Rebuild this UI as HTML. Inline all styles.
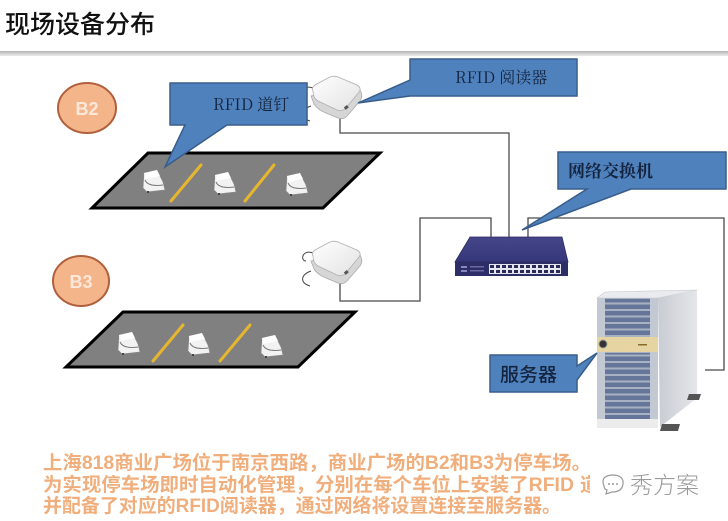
<!DOCTYPE html>
<html><head><meta charset="utf-8"><style>
html,body{margin:0;padding:0;background:#fff;}
svg{display:block;}
</style></head><body>
<svg width="728" height="521" viewBox="0 0 728 521" xmlns="http://www.w3.org/2000/svg">
<defs>
<linearGradient id="rule" x1="0" y1="0" x2="0" y2="1"><stop offset="0" stop-color="#b4b4b4"/><stop offset="1" stop-color="#ececec"/></linearGradient>
<linearGradient id="rdTop" x1="0" y1="0" x2="1" y2="1"><stop offset="0" stop-color="#ffffff"/><stop offset="1" stop-color="#e2e2e2"/></linearGradient>
<linearGradient id="swTop" x1="0" y1="0" x2="0" y2="1"><stop offset="0" stop-color="#45458a"/><stop offset="1" stop-color="#36367a"/></linearGradient>
<linearGradient id="srvSide" x1="0" y1="0" x2="1" y2="0"><stop offset="0" stop-color="#c9ccd3"/><stop offset="1" stop-color="#e4e6ea"/></linearGradient>
<pattern id="ports" x="489" y="264" width="6" height="5" patternUnits="userSpaceOnUse"><rect width="6" height="5" fill="#e4e6f0"/><rect x="1" y="1" width="4" height="3" fill="#2a2a55"/></pattern>
<pattern id="slats" x="0" y="298" width="10" height="6.5" patternUnits="userSpaceOnUse"><rect width="10" height="6.5" fill="#a7b1c2"/><rect y="0" width="10" height="4.5" fill="#66769a"/></pattern>
<g id="dev">
<path d="M2,3 L15,0 L21,12 L23,20 L5,22 L1,18 Z" fill="#f2f2f2" stroke="#8a8a8a" stroke-width="0.7"/>
<path d="M3,10 Q6,17 21,15" fill="none" stroke="#7a7a7a" stroke-width="1"/>
<path d="M2,3 L15,0 L18,6 L3,9 Z" fill="#ffffff"/>
<rect x="5" y="21" width="2" height="2" fill="#444"/>
</g>
<g id="reader">
<path d="M313,88 C302,84 300,96 306,96" fill="none" stroke="#444" stroke-width="1"/>
<path d="M311,106 C300,110 300,118 310,121" fill="none" stroke="#444" stroke-width="1"/>
<path d="M311,96 L314,104 Q318,110 326,113 L338,118 Q343,120 347,116 L360,101 Q363,97 361,92 L359,88 Z" fill="#d6d6d6" stroke="#aaa" stroke-width="0.8"/>
<path d="M313,91 Q311,88 315,85 L328,78 Q333,75 338,77 L357,85 Q362,88 359,92 L346,108 Q342,112 337,110 L318,101 Q313,98 313,91 Z" fill="url(#rdTop)" stroke="#b0b0b0" stroke-width="0.8"/>
<rect x="344" y="106" width="4" height="3" fill="#555" transform="rotate(-40 346 107)"/>
</g>
</defs>

<!-- title -->
<text x="5" y="33" font-family="'Noto Sans CJK SC','WenQuanYi Zen Hei',sans-serif" font-size="25" font-weight="500" fill="#111">现场设备分布</text>
<rect x="0" y="51" width="728" height="5" fill="url(#rule)"/>

<!-- connector lines -->
<g fill="none" stroke="#4a4a4a" stroke-width="1.3">
<path d="M340,118 V133 H509 V237"/>
<path d="M340,283 V301 H420 V218 H491 V237"/>
<path d="M528,237 V218 H724 V370 H705"/>
</g>

<!-- B2 -->
<ellipse cx="87" cy="108" rx="29" ry="25" fill="#f5b58b" stroke="#b0603c" stroke-width="2"/>
<text x="87" y="115" text-anchor="middle" font-family="'Liberation Sans',sans-serif" font-size="18" font-weight="bold" fill="#fbe8da">B2</text>
<polygon points="148,153 380,153 323,208 92,208" fill="#808080" stroke="#000" stroke-width="3" stroke-linejoin="miter"/>
<g stroke="#e6b62e" stroke-width="3" stroke-linecap="round"><line x1="171" y1="201" x2="201" y2="165"/><line x1="245" y1="201" x2="274" y2="165"/></g>
<use href="#dev" x="142" y="170"/><use href="#dev" x="213" y="172"/><use href="#dev" x="285" y="173"/>

<!-- B3 -->
<ellipse cx="81" cy="281" rx="28" ry="25" fill="#f5b58b" stroke="#b0603c" stroke-width="2"/>
<text x="81" y="288" text-anchor="middle" font-family="'Liberation Sans',sans-serif" font-size="18" font-weight="bold" fill="#fbe8da">B3</text>
<polygon points="123,312 355,312 298,367 66,367" fill="#808080" stroke="#000" stroke-width="3"/>
<g stroke="#e6b62e" stroke-width="3" stroke-linecap="round"><line x1="153" y1="361" x2="183" y2="325"/><line x1="220" y1="361" x2="250" y2="325"/></g>
<use href="#dev" x="117" y="332"/><use href="#dev" x="187" y="333"/><use href="#dev" x="260" y="335"/>

<!-- readers -->
<use href="#reader"/>
<use href="#reader" y="165"/>

<!-- switch -->
<polygon points="470,237 562,237 568,262 455,262" fill="url(#swTop)" stroke="#2a2a60" stroke-width="0.8"/>
<polygon points="455,262 568,262 568,276 455,276" fill="#2d2d68"/>
<rect x="489" y="264" width="72" height="10" fill="url(#ports)"/>
<rect x="461" y="266" width="6" height="2" fill="#8888bb"/><rect x="470" y="266" width="14" height="1.5" fill="#6a6aa0"/>
<rect x="461" y="270" width="6" height="2" fill="#8888bb"/><rect x="470" y="270" width="14" height="1.5" fill="#6a6aa0"/>

<!-- server -->
<polygon points="597,298 605,292 697,290 658,298" fill="#e9ebee" stroke="#c4c7cc" stroke-width="0.6"/>
<polygon points="658,298 697,290 697,398 660,427" fill="url(#srvSide)"/>
<rect x="597" y="298" width="61" height="129" fill="#a7b1c2"/>
<rect x="605" y="299" width="45" height="37" fill="url(#slats)"/>
<rect x="605" y="353" width="45" height="66" fill="url(#slats)"/>
<rect x="597" y="298" width="8" height="121" fill="#c3c9d3"/>
<rect x="650" y="298" width="8" height="121" fill="#c3c9d3"/>
<rect x="597" y="337" width="61" height="15" fill="#e6d5a3"/>
<rect x="638" y="344" width="9" height="1.5" fill="#8a6a2a"/>
<circle cx="603" cy="344" r="4" fill="#333" stroke="#999" stroke-width="1"/>
<rect x="597" y="419" width="61" height="9" fill="#ececec"/>
<polygon points="662,424 680,424 678,431 660,431" fill="#555"/>
<polygon points="689,394 701,394 699,400 687,400" fill="#555"/>

<!-- callouts -->
<g fill="#4f81bd" stroke="#385d8a" stroke-width="1.5" stroke-linejoin="miter">
<path d="M170,83 H307 V125 H227 L165,167 L185,125 H170 Z"/>
<path d="M410,59 H577 V96 H410 L358,103 L410,80 Z"/>
<path d="M558,152 H726 V189 H631 L522,230 L587,189 H558 Z"/>
<path d="M490,355 H577 V366 L597,353 L577,380 V392 H490 Z"/>
</g>
<g font-family="'Noto Serif CJK SC','Liberation Serif',serif" fill="#14243f">
<text x="213" y="110" font-size="16">RFID 道钉</text>
<text x="455" y="83" font-size="16">RFID 阅读器</text>
<text x="568" y="177" font-size="17" font-weight="bold">网络交换机</text>
</g>
<text x="500" y="381" font-family="'Noto Sans CJK SC',sans-serif" font-size="19" font-weight="500" fill="#14243f">服务器</text>

<!-- bottom text -->
<g font-family="'Liberation Sans','Noto Sans CJK SC',sans-serif" font-size="19" font-weight="bold" fill="#f0ae7c">
<text x="43" y="469" textLength="548" lengthAdjust="spacingAndGlyphs">上海818商业广场位于南京西路，商业广场的B2和B3为停车场。</text>
<text x="43" y="491" textLength="531" lengthAdjust="spacingAndGlyphs">为实现停车场即时自动化管理，分别在每个车位上安装了RFID</text>
<text x="580" y="491">道</text>
<text x="43" y="512" textLength="518" lengthAdjust="spacingAndGlyphs">并配备了对应的RFID阅读器，通过网络将设置连接至服务器。</text>
</g>
<rect x="590" y="472" width="138" height="24" fill="#fff"/>
<!-- watermark -->
<g fill="none" stroke="#9a9a9a" stroke-width="1.2">
<path d="M604,486 Q600,476 612,475 Q624,475 623,484 Q622,492 612,492 L606,494 L607,490 Q604,489 604,486 Z"/>
</g>
<circle cx="609" cy="484" r="1" fill="#9a9a9a"/><circle cx="613" cy="484" r="1" fill="#9a9a9a"/><circle cx="617" cy="484" r="1" fill="#9a9a9a"/>
<text x="630" y="493" font-family="'Noto Sans CJK SC',sans-serif" font-size="23" font-weight="300" fill="#9a9a9a">秀方案</text>
</svg>
</body></html>
